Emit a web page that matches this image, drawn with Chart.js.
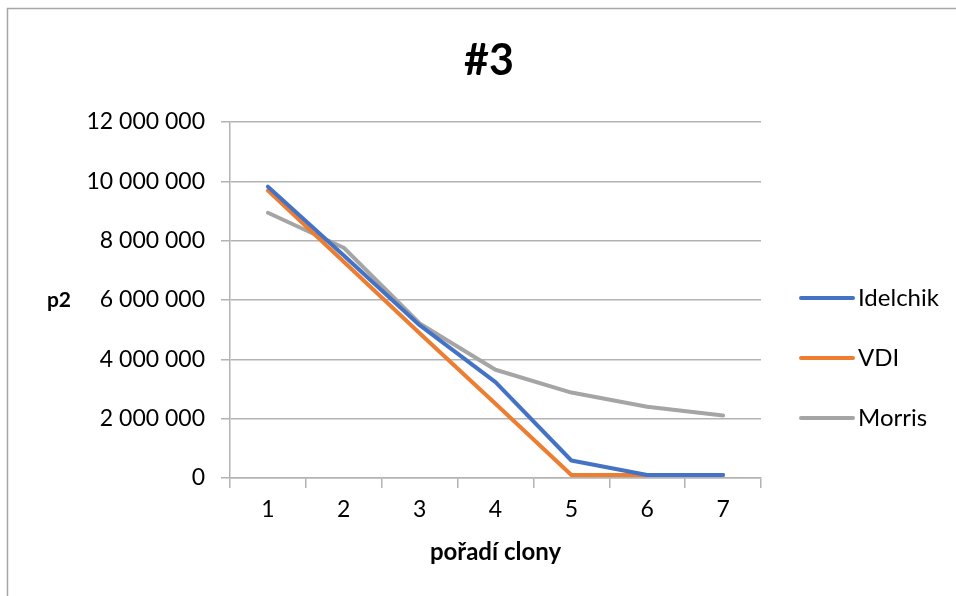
<!DOCTYPE html>
<html>
<head>
<meta charset="utf-8">
<script src="https://cdn.jsdelivr.net/npm/chart.js@4"></script>
<style>
html,body{margin:0;padding:0;background:#fff;}
canvas{display:block;}
</style>
</head>
<body>
<canvas id="c" width="956" height="596"></canvas>
<script>
const categories = ['1','2','3','4','5','6','7'];
const idelchik = [9820000, 7500000, 5150000, 3230000, 590000, 100000, 100000];
const vdi      = [9690000, 7290000, 4880000, 2500000, 100000, 100000, 100000];
const morris   = [8940000, 7760000, 5210000, 3650000, 2880000, 2400000, 2110000];
const seriesNames = ['Idelchik', 'VDI', 'Morris'];
const seriesColors = ['#4472C4', '#ED7D31', '#A5A5A5'];
const chartTitle = '#3';
const xTitle = 'pořadí clony';
const yTitle = 'p2';

const FONT = 'Lato, "Open Sans", "Liberation Sans", sans-serif';
const AXIS_GRAY = '#b3b3b3';

function fmt(v){ return String(v).replace(/\B(?=(\d{3})+(?!\d))/g, ' '); }

const extras = {
  id: 'extras',
  beforeDraw(chart){
    const ctx = chart.ctx;
    ctx.save();
    ctx.fillStyle = '#fff';
    ctx.fillRect(0,0,chart.width,chart.height);
    ctx.strokeStyle = '#a6a6a6';
    ctx.lineWidth = 1.5;
    ctx.strokeRect(7.5, 8.5, chart.width + 10, chart.height + 10);
    ctx.restore();
  },
  afterDraw(chart){
    const ctx = chart.ctx;
    const ca = chart.chartArea;
    ctx.save();
    ctx.fillStyle = '#000';
    ctx.textAlign = 'center';
    ctx.textBaseline = 'middle';
    ctx.font = 'bold 43px ' + FONT;
    ctx.fillText(chartTitle, 489, 61);
    ctx.font = 'bold 21px ' + FONT;
    ctx.fillText(yTitle, 59, (ca.top + ca.bottom)/2);
    const ys = [298, 358, 418];
    chart.data.datasets.forEach((ds, i) => {
      ctx.strokeStyle = ds.borderColor;
      ctx.lineWidth = 4;
      ctx.lineCap = 'round';
      ctx.beginPath();
      ctx.moveTo(801, ys[i]);
      ctx.lineTo(853, ys[i]);
      ctx.stroke();
      ctx.fillStyle = '#000';
      ctx.textAlign = 'left';
      ctx.font = '24px ' + FONT;
      ctx.fillText(ds.label, 858, ys[i]);
    });
    ctx.restore();
  }
};

new Chart(document.getElementById('c'), {
  type: 'line',
  data: {
    labels: categories,
    datasets: [idelchik, vdi, morris].map((d, i) => ({
      label: seriesNames[i],
      data: d,
      borderColor: seriesColors[i],
      backgroundColor: seriesColors[i],
      borderWidth: 4,
      pointRadius: 0,
      tension: 0,
      borderCapStyle: 'round',
      borderJoinStyle: 'round',
      fill: false
    }))
  },
  options: {
    responsive: false,
    devicePixelRatio: 1,
    animation: false,
    layout: { padding: { left: 0, right: 195, top: 122, bottom: 0 } },
    plugins: {
      legend: { display: false },
      title: { display: false },
      tooltip: { enabled: false }
    },
    scales: {
      x: {
        type: 'category',
        offset: true,
        grid: { offset: true, drawOnChartArea: false, drawTicks: true, tickLength: 10, color: AXIS_GRAY, tickColor: AXIS_GRAY, lineWidth: 1.5 },
        border: { color: AXIS_GRAY, width: 1.5 },
        ticks: { color: '#000', font: { family: FONT, size: 23 }, padding: 8, maxRotation: 0 },
        title: { display: true, text: xTitle, color: '#000', font: { family: FONT, size: 24, weight: 'bold' }, padding: { top: 0, bottom: 29 } },
        afterFit(scale){ scale.height = 118; }
      },
      y: {
        min: 0,
        max: 12000000,
        ticks: { stepSize: 2000000, color: '#000', font: { family: FONT, size: 23 }, padding: 16, callback: v => fmt(v) },
        grid: { color: AXIS_GRAY, tickColor: AXIS_GRAY, tickLength: 9, lineWidth: 1.5 },
        border: { color: AXIS_GRAY, width: 1.5 },
        afterFit(scale){ scale.width = 230; }
      }
    }
  },
  plugins: [extras]
});
</script>
</body>
</html>
